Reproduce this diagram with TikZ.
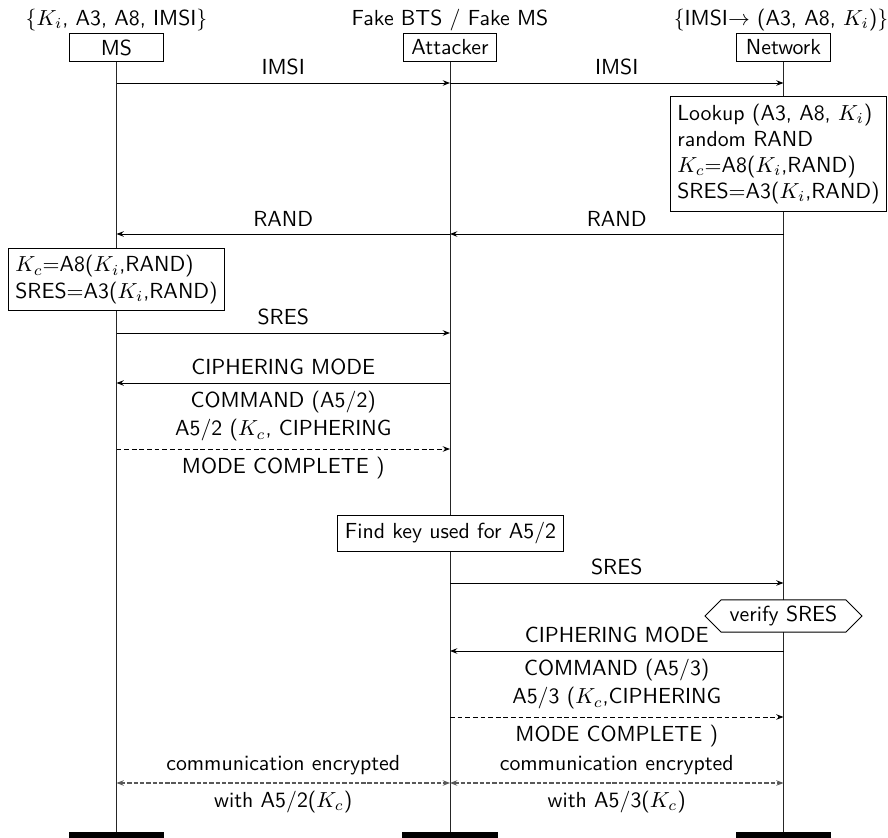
\documentclass[tikz,border=0pt]{standalone}
\usetikzlibrary{arrows.meta,shapes.symbols}
\begin{document}
\begin{tikzpicture}[x=0.4587pt,y=-0.4587pt,
  every node/.style={font=\sffamily},
  inst/.style={draw,line width=0.45pt,minimum width=42.7pt,minimum height=12.4pt,inner sep=1pt},
  endblk/.style={fill=black,minimum width=43.6pt,minimum height=8pt,inner sep=0pt,anchor=north},
  life/.style={line width=0.45pt,draw=black!85},
  msg/.style={line width=0.45pt,-{Stealth[length=3.3pt,width=2.5pt]}},
  dmsg/.style={msg,dash pattern=on 2.2pt off 1.3pt},
  cmsg/.style={line width=0.5pt,{Stealth[length=3.3pt,width=2.5pt]}-{Stealth[length=3.3pt,width=2.5pt]},dash pattern=on 2pt off 0.9pt,draw=black!65},
  actbox/.style={draw,line width=0.45pt,align=left,fill=white},
  lab/.style={midway,above},
  labb/.style={midway,below}]
\clip (0,0) rectangle (888,838);
% instances
\node[inst] (ms) at (116.5,47.5) {MS};
\node[inst] (att) at (450,47.5) {Attacker};
\node[inst] (net) at (783.5,47.5) {Network};
\node[anchor=base] (msk) at (116.5,25) {$\{K_i$, A3, A8, IMSI$\}$};
\node[anchor=base] (attk) at (450,25) {Fake BTS / Fake MS};
\node[anchor=base] (netk) at (781,25) {$\{$IMSI$\rightarrow$ (A3, A8, $K_i$)$\}$};
\node[endblk] (msend) at (116.5,832) {};
\node[endblk] (attend) at (450,832) {};
\node[endblk] (netend) at (783.5,832) {};
\draw[life] (ms.south) -- (msend.north);
\draw[life] (att.south) -- (attend.north);
\draw[life] (net.south) -- (netend.north);
% rows
\coordinate (r1) at (0,83);
\coordinate (r2) at (0,234);
\coordinate (r3) at (0,333);
\coordinate (r4) at (0,383);
\coordinate (r5) at (0,449);
\coordinate (r6) at (0,583);
\coordinate (r7) at (0,651);
\coordinate (r8) at (0,717);
\coordinate (r9) at (0,783);
% actions
\node[actbox] (netbox) at (778.5,154) {Lookup (A3, A8, $K_i$)\\random RAND\\$K_c{=}$A8($K_i$,RAND)\\SRES$=$A3($K_i$,RAND)};
\node[actbox] (msbox) at (116.5,279.5) {$K_c{=}$A8($K_i$,RAND)\\SRES$=$A3($K_i$,RAND)};
\node[actbox] (findbox) at (450.5,533.5) {Find key used for A5/2};
\node[draw,line width=0.45pt,fill=white,signal,signal to=west and east,minimum width=72pt,minimum height=14.7pt,inner sep=1pt] (vs) at (783.5,616) {verify SRES};
% messages
\draw[msg] (ms |- r1) -- (att |- r1) node[lab]{IMSI};
\draw[msg] (att |- r1) -- (net |- r1) node[lab]{IMSI};
\draw[msg] (net |- r2) -- (att |- r2) node[lab]{RAND};
\draw[msg] (att |- r2) -- (ms |- r2) node[lab]{RAND};
\draw[msg] (ms |- r3) -- (att |- r3) node[lab]{SRES};
\draw[msg] (att |- r4) -- (ms |- r4) node[lab]{CIPHERING MODE} node[labb]{COMMAND (A5/2)};
\draw[dmsg] (ms |- r5) -- (att |- r5) node[lab]{A5/2 ($K_c$, CIPHERING} node[labb]{MODE COMPLETE )};
\draw[msg] (att |- r6) -- (net |- r6) node[lab]{SRES};
\draw[msg] (net |- r7) -- (att |- r7) node[lab]{CIPHERING MODE} node[labb]{COMMAND (A5/3)};
\draw[dmsg] (att |- r8) -- (net |- r8) node[lab]{A5/3 ($K_c$,CIPHERING} node[labb]{MODE COMPLETE )};
\draw[cmsg] (ms |- r9) -- (att |- r9) node[lab,text=black]{communication encrypted} node[labb,text=black]{with A5/2($K_c$)};
\draw[cmsg] (att |- r9) -- (net |- r9) node[lab,text=black]{communication encrypted} node[labb,text=black]{with A5/3($K_c$)};
\end{tikzpicture}
\end{document}
